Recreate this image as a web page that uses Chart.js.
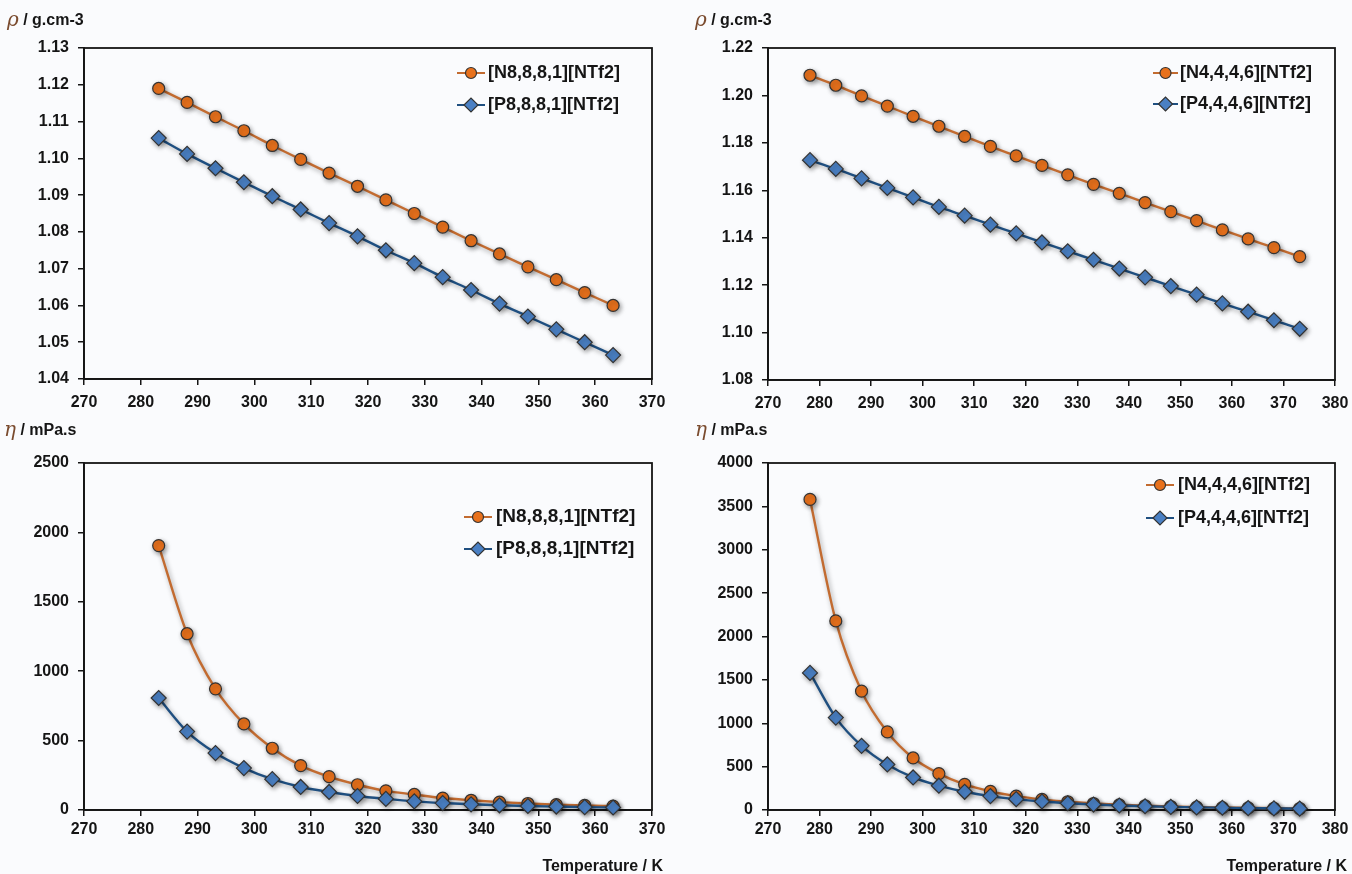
<!DOCTYPE html>
<html><head><meta charset="utf-8">
<script src="https://cdn.jsdelivr.net/npm/chart.js@4.4.1/dist/chart.umd.min.js"></script>
<style>
html,body{margin:0;padding:0;background:#fafbfd;overflow:hidden;}
.box{position:absolute;}
canvas{display:block;}
</style></head><body>
<div class="box" style="left:0;top:0"><canvas id="c1" width="676" height="430"></canvas></div>
<div class="box" style="left:676px;top:0"><canvas id="c2" width="676" height="430"></canvas></div>
<div class="box" style="left:0;top:410px"><canvas id="c3" width="676" height="464"></canvas></div>
<div class="box" style="left:676px;top:410px"><canvas id="c4" width="676" height="464"></canvas></div>
<script>
// ---- data ----
const tempsA = [283.15, 288.15, 293.15, 298.15, 303.15, 308.15, 313.15, 318.15, 323.15, 328.15, 333.15, 338.15, 343.15, 348.15, 353.15, 358.15, 363.15];
const tempsB = [278.15, 283.15, 288.15, 293.15, 298.15, 303.15, 308.15, 313.15, 318.15, 323.15, 328.15, 333.15, 338.15, 343.15, 348.15, 353.15, 358.15, 363.15, 368.15, 373.15];

const rhoN8881 = [1.1190, 1.1152, 1.1113, 1.1075, 1.1035, 1.0997, 1.0960, 1.0924, 1.0887, 1.0850, 1.0813, 1.0776, 1.0740, 1.0705, 1.0670, 1.0635, 1.0600];
const rhoP8881 = [1.1055, 1.1012, 1.0973, 1.0935, 1.0897, 1.0861, 1.0824, 1.0788, 1.0750, 1.0715, 1.0677, 1.0642, 1.0605, 1.0570, 1.0535, 1.0500, 1.0465];
const rhoN4446 = [1.2085, 1.2043, 1.1998, 1.1955, 1.1912, 1.1870, 1.1827, 1.1785, 1.1745, 1.1705, 1.1665, 1.1625, 1.1587, 1.1548, 1.1510, 1.1472, 1.1433, 1.1395, 1.1358, 1.1320];
const rhoP4446 = [1.1727, 1.1690, 1.1650, 1.1610, 1.1570, 1.1530, 1.1493, 1.1455, 1.1418, 1.1380, 1.1343, 1.1307, 1.1270, 1.1233, 1.1196, 1.1160, 1.1123, 1.1088, 1.1052, 1.1016];

const etaN8881 = [1905, 1270, 873, 620, 445, 320, 240, 182, 138, 112, 86, 70, 57, 47, 39, 33, 28];
const etaP8881 = [807, 565, 410, 302, 222, 166, 130, 101, 80, 62, 50, 41, 34, 29, 25, 21, 18];
const etaN4446 = [3580, 2180, 1370, 900, 600, 420, 295, 215, 160, 122, 95, 75, 60, 49, 40, 33, 28, 24, 20, 17];
const etaP4446 = [1580, 1065, 740, 525, 375, 280, 210, 160, 125, 98, 78, 63, 52, 43, 36, 30, 26, 22, 19, 16];

const seriesLeft = ['[N8,8,8,1][NTf2]', '[P8,8,8,1][NTf2]'];
const seriesRight = ['[N4,4,4,6][NTf2]', '[P4,4,4,6][NTf2]'];
const yTitleRho = ['\u03C1', ' / g.cm-3'];
const yTitleEta = ['\u03B7', ' / mPa.s'];
const xTitle = 'Temperature / K';

// ---- styles ----
const FONT = '"Liberation Sans", Arial, sans-serif';
const ORANGE = {line: '#c26b30', fill: '#e8711c'};
const BLUE = {line: '#1f4f80', fill: '#4a80c4'};
const INK = '#151515';

function pts(xs, ys) { return xs.map((x, i) => ({x: x, y: ys[i]})); }

function ds(label, xs, ys, col, style, r, order) {
  return {
    label: label, data: pts(xs, ys), borderColor: col.line, backgroundColor: col.fill,
    pointBackgroundColor: col.fill, pointBorderColor: '#333', pointBorderWidth: 1.2,
    pointStyle: style, pointRadius: r, pointHoverRadius: r, borderWidth: 2.4,
    cubicInterpolationMode: 'monotone', clip: false, order: order
  };
}

const framePlugin = {
  id: 'frame',
  beforeDatasetsDraw(chart) {
    const ctx = chart.ctx;
    ctx.save();
    ctx.shadowColor = 'rgba(0,0,0,0.38)';
    ctx.shadowBlur = 5;
    ctx.shadowOffsetX = 1.5;
    ctx.shadowOffsetY = 2;
  },
  afterDatasetsDraw(chart) {
    chart.ctx.restore();
  },
  beforeDraw(chart) {
    const a = chart.chartArea, ctx = chart.ctx;
    ctx.save();
    ctx.strokeStyle = INK; ctx.lineWidth = 1.8;
    ctx.strokeRect(a.left, a.top, a.right - a.left, a.bottom - a.top);
    ctx.restore();
  },
  afterDraw(chart) {
    const o = chart.options.plugins.frame, ctx = chart.ctx;
    ctx.save();
    // y title
    ctx.textBaseline = 'middle'; ctx.textAlign = 'left';
    ctx.font = 'italic 20px "DejaVu Serif", serif';
    ctx.fillStyle = '#7a4b2e';
    ctx.fillText(o.yTitle[0], o.yTitleX, o.yTitleY);
    const w = ctx.measureText(o.yTitle[0]).width;
    ctx.font = 'bold 16px ' + FONT;
    ctx.fillStyle = INK;
    ctx.fillText(o.yTitle[1], o.yTitleX + w, o.yTitleY);
    // x title
    if (o.xTitle) {
      ctx.textAlign = 'right';
      ctx.font = 'bold 16px ' + FONT;
      ctx.fillText(o.xTitle, o.xTitleX, o.xTitleY);
    }
    // legend
    const L = o.legend;
    chart.data.datasets.forEach((d, i) => {
      const y = L.y + i * L.dy;
      ctx.strokeStyle = d.borderColor; ctx.lineWidth = 2;
      ctx.beginPath(); ctx.moveTo(L.x0, y); ctx.lineTo(L.x1, y); ctx.stroke();
      ctx.fillStyle = d.pointBackgroundColor; ctx.strokeStyle = d.pointBorderColor; ctx.lineWidth = 1.2;
      Chart.helpers.drawPoint(ctx, {pointStyle: d.pointStyle, radius: d.pointStyle === 'circle' ? 5.5 : 7, borderWidth: 1.2, rotation: 0}, (L.x0 + L.x1) / 2, y);
      ctx.fillStyle = INK; ctx.textAlign = 'left'; ctx.textBaseline = 'middle';
      ctx.font = 'bold ' + L.size + 'px ' + FONT;
      ctx.fillText(d.label, L.tx, y);
    });
    ctx.restore();
  }
};

function make(id, cfg) {
  const tickFont = {family: FONT, size: 16, weight: 'bold'};
  const gridOpts = {display: true, drawOnChartArea: false, drawTicks: true, tickLength: 6, color: INK, lineWidth: 1.5};
  new Chart(document.getElementById(id), {
    type: 'line',
    data: {datasets: cfg.datasets},
    options: {
      responsive: false, animation: false, events: [],
      layout: {padding: {left: 0, top: cfg.top, right: cfg.right, bottom: 0}},
      plugins: {
        legend: {display: false}, tooltip: {enabled: false},
        frame: cfg.frame
      },
      scales: {
        x: {
          type: 'linear', min: cfg.xmin, max: cfg.xmax,
          ticks: {stepSize: 10, font: tickFont, color: INK, padding: cfg.xpad, maxRotation: 0},
          grid: gridOpts, border: {display: true, color: INK, width: 1.8},
          afterFit(s) { s.height = cfg.xh; s.paddingLeft = 0; s.paddingRight = 0; }
        },
        y: {
          type: 'linear', min: cfg.ymin, max: cfg.ymax,
          ticks: {stepSize: cfg.ystep, font: tickFont, color: INK, padding: 9,
            callback: v => cfg.ydec ? Number(v).toFixed(2) : String(Math.round(v))},
          grid: gridOpts, border: {display: true, color: INK, width: 1.8},
          afterFit(s) { s.width = cfg.yw; s.paddingTop = 0; s.paddingBottom = 0; }
        }
      }
    },
    plugins: [framePlugin]
  });
}

make('c1', {
  datasets: [ds(seriesLeft[0], tempsA, rhoN8881, ORANGE, 'circle', 6, 1), ds(seriesLeft[1], tempsA, rhoP8881, BLUE, 'rectRot', 7.5, 0)],
  xmin: 270, xmax: 370, ymin: 1.04, ymax: 1.13, ystep: 0.01, ydec: true,
  top: 48, right: 24, yw: 84, xh: 51, xpad: 8,
  frame: {yTitle: yTitleRho, yTitleX: 7, yTitleY: 21, legend: {x0: 457, x1: 485, tx: 488, y: 73, dy: 32, size: 18}}
});
make('c2', {
  datasets: [ds(seriesRight[0], tempsB, rhoN4446, ORANGE, 'circle', 6, 1), ds(seriesRight[1], tempsB, rhoP4446, BLUE, 'rectRot', 7.5, 0)],
  xmin: 270, xmax: 380, ymin: 1.08, ymax: 1.22, ystep: 0.02, ydec: true,
  top: 48, right: 17, yw: 92, xh: 50, xpad: 8,
  frame: {yTitle: yTitleRho, yTitleX: 19, yTitleY: 21, legend: {x0: 477, x1: 502, tx: 504, y: 73, dy: 31, size: 18}}
});
make('c3', {
  datasets: [ds(seriesLeft[0], tempsA, etaN8881, ORANGE, 'circle', 6, 1), ds(seriesLeft[1], tempsA, etaP8881, BLUE, 'rectRot', 7.5, 0)],
  xmin: 270, xmax: 370, ymin: 0, ymax: 2500, ystep: 500, ydec: false,
  top: 53, right: 24, yw: 84, xh: 64, xpad: 4,
  frame: {yTitle: yTitleEta, yTitleX: 4, yTitleY: 21, xTitle: xTitle, xTitleX: 663, xTitleY: 457, legend: {x0: 464, x1: 492, tx: 496, y: 107, dy: 32, size: 19}}
});
make('c4', {
  datasets: [ds(seriesRight[0], tempsB, etaN4446, ORANGE, 'circle', 6, 1), ds(seriesRight[1], tempsB, etaP4446, BLUE, 'rectRot', 7.5, 0)],
  xmin: 270, xmax: 380, ymin: 0, ymax: 4000, ystep: 500, ydec: false,
  top: 53, right: 17, yw: 92, xh: 64, xpad: 4,
  frame: {yTitle: yTitleEta, yTitleX: 19, yTitleY: 21, xTitle: xTitle, xTitleX: 671, xTitleY: 457, legend: {x0: 470, x1: 498, tx: 502, y: 75, dy: 33, size: 18}}
});
</script>
</body></html>
